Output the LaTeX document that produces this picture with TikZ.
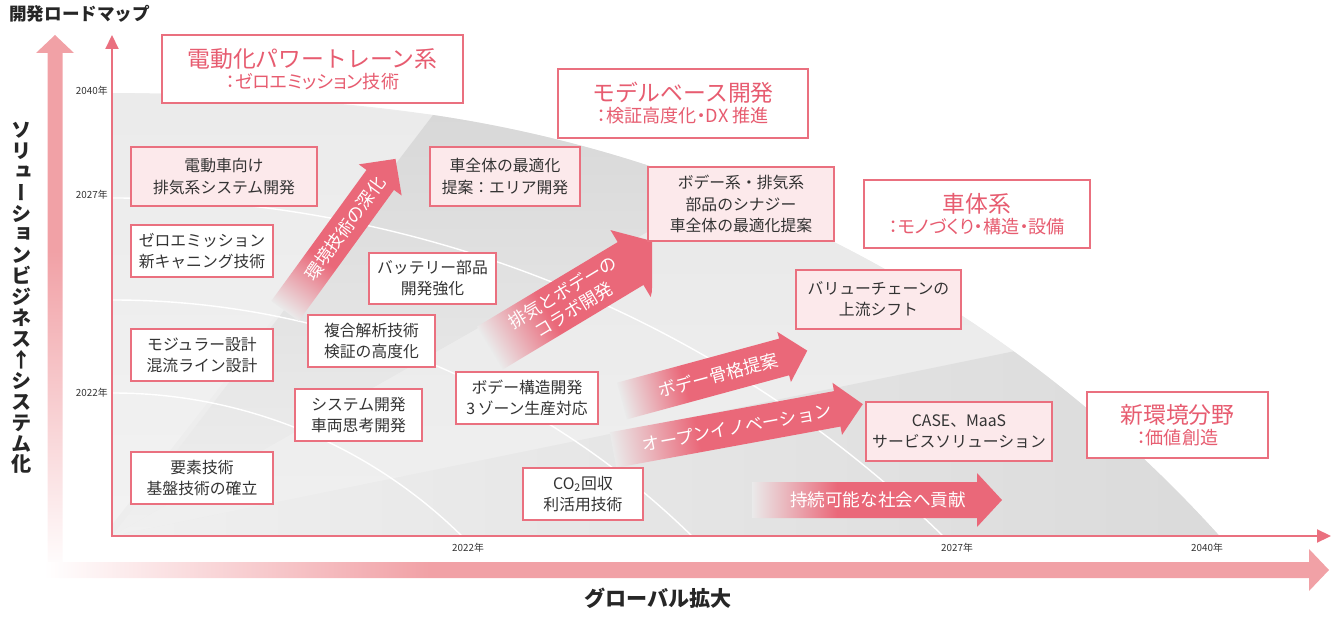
\documentclass[tikz,border=0pt]{standalone}
\usepackage{fontspec}
\setmainfont{Noto Sans CJK JP}
\newfontfamily\vertfont{Noto Sans CJK JP}[RawFeature=+vert]
\newfontfamily\palfont{Noto Sans CJK JP}[RawFeature=+palt]
\usetikzlibrary{arrows.meta}
\definecolor{keyred}{RGB}{231,92,112}
\definecolor{arrowred}{RGB}{234,104,121}
\definecolor{boxline}{RGB}{234,112,127}
\definecolor{boxpink}{RGB}{252,233,235}
\definecolor{bigpink}{RGB}{241,161,166}
\definecolor{textgray}{RGB}{51,51,51}
\definecolor{fadegray}{RGB}{234,234,234}
\newcommand\boxfont{\fontsize{9}{12}\selectfont}
\newcommand\titlefont{\fontsize{13}{15.5}\selectfont}
\newcommand\subtfont{\palfont\fontsize{10.3}{15.5}\selectfont}
\newcommand\arrowfont{\fontsize{10}{11.5}\selectfont}
\newcommand\yearfont{\fontsize{5.6}{6}\selectfont}
\pgfdeclarehorizontalshading{tailfade}{100bp}{color(0bp)=(fadegray); color(25bp)=(fadegray); color(42bp)=(arrowred); color(100bp)=(arrowred)}
\pgfdeclarehorizontalshading{xfade}{100bp}{color(0bp)=(white); color(25bp)=(white); color(40bp)=(bigpink); color(100bp)=(bigpink)}
\pgfdeclareverticalshading{yfade}{100bp}{color(0bp)=(white); color(25bp)=(white); color(55bp)=(bigpink); color(100bp)=(bigpink)}

\begin{document}
\begin{tikzpicture}[x=0.02cm, y=-0.02cm,
  box/.style={draw=boxline, line width=.8pt, fill=white, text=textgray, font=\boxfont, align=center, inner sep=0pt},
  pinkbox/.style={box, fill=boxpink},
  titlebox/.style={draw=boxline, line width=.8pt, fill=white, text=keyred, align=center, inner sep=0pt},
  sz/.style 2 args={minimum width=#1*0.02cm, minimum height=#2*0.02cm},
  arrowtext/.style={text=white, font=\arrowfont, align=center, inner sep=0pt},
  year/.style={font=\yearfont, text=textgray, inner sep=0pt},
  axis/.style={draw=boxline, line width=1.2pt, -{Triangle[length=.28cm, width=.26cm]}}]
  \useasboundingbox (0,0) rectangle (1335,618);
  % big background arrows
  \shade[shading=yfade] (47.5,575) -- (47.5,53) -- (36,53) -- (55,35) -- (74,53) -- (62.5,53) -- (62.5,575) -- cycle;
  \shade[shading=xfade] (44,562) -- (1309,562) -- (1309,549) -- (1329,570) -- (1309,591) -- (1309,578) -- (44,578) -- cycle;
  % gray fan
  \begin{scope}
    \clip (112,536) -- (112,93) .. controls (250,94) and (360,104) .. (433,115)
      arc[start angle=-81.59, end angle=-42.1, radius=1320] -- cycle;
    \fill[black!7] (100,50) rectangle (1300,540);
    \shade[top color=black!8, bottom color=black!5] (100,540) -- (100,80) -- (433,115) -- cycle;
    \shade[top color=black!16, bottom color=black!6] (112,536) -- (433,115) -- (600,80) -- (720,191) -- cycle;
    \shade[top color=black!9, bottom color=black!6] (112,536) -- (720,191) -- (1000,150) -- (1030,348) -- cycle;
    \shade[left color=black!6, right color=black!15] (112,536) -- (1030,348) -- (1300,300) -- (1300,540) -- cycle;
    \draw[white, line width=.8pt] (113,198) arc[start angle=-90, end angle=-30, radius=1188];
    \draw[white, line width=.8pt] (113,300) arc[start angle=-90, end angle=-30, radius=828];
    \draw[white, line width=.8pt] (113,393) arc[start angle=-90, end angle=-30, radius=497];
  \end{scope}
  % axes
  \coordinate (origin) at (112,536);
  \coordinate (ytop) at (112,35);
  \coordinate (xend) at (1331,536);
  \draw[axis] ([yshift=-.6pt]origin) -- (ytop);
  \draw[axis] ([xshift=-.6pt]origin) -- (xend);
  \node[year, anchor=east] (y40) at (108,91) {2040年};
  \node[year, anchor=east] (y27) at (108,195) {2027年};
  \node[year, anchor=east] (y22) at (108,393) {2022年};
  \node[year] (x22) at (468,548) {2022年};
  \node[year] (x27) at (957,548) {2027年};
  \node[year] (x40) at (1207,548) {2040年};
  % axis titles
  \node[font=\fontsize{10}{12}\selectfont\bfseries, text=black!85, anchor=west, inner sep=0pt] (maptitle) at (9,14) {開発ロードマップ};
  \node[font=\vertfont\fontsize{11.5}{11.9}\selectfont\bfseries, text=black!85, align=center, inner sep=0pt] (ylabel) at (22,298)
    {ソ\\リ\\ュ\\ー\\シ\\ョ\\ン\\ビ\\ジ\\ネ\\ス\\↑\\シ\\ス\\テ\\ム\\化};
  \node[font=\fontsize{12}{14}\selectfont\bfseries, text=black!85, inner sep=0pt] (xlabel) at (658,598) {グローバル拡大};
  % block arrows
  \begin{scope}[transform canvas={shift={(285,311)}, rotate=54}]
    \shade[shading=tailfade] (0,-17) -- (162,-17) -- (162,-26.5) -- (188,0) -- (162,26.5) -- (162,17) -- (0,17) -- cycle;
  \end{scope}
  \begin{scope}
    \clip (0,0) rectangle (652,618);
    \begin{scope}[transform canvas={shift={(490,348)}, rotate=31}]
      \shade[shading=tailfade] (0,-25) -- (164,-25) -- (164,-39) -- (202,0) -- (164,39) -- (164,25) -- (0,25) -- cycle;
    \end{scope}
  \end{scope}
  \begin{scope}[transform canvas={shift={(622,401)}, rotate=15.2}]
    \shade[shading=tailfade] (0,-19) -- (168,-19) -- (168,-26) -- (192,0) -- (168,26) -- (168,19) -- (0,19) -- cycle;
  \end{scope}
  \begin{scope}[transform canvas={shift={(613,450)}, rotate=10.4}]
    \shade[shading=tailfade] (0,-18) -- (228,-18) -- (228,-26.5) -- (254,0) -- (228,26.5) -- (228,18) -- (0,18) -- cycle;
  \end{scope}
  \shade[shading=tailfade] (752,482) -- (977,482) -- (977,473) -- (1002,500) -- (977,527) -- (977,518) -- (752,518) -- cycle;
  \node[arrowtext, rotate=54] (envdeep) at (345,228.5) {環境技術の深化};
  \node[arrowtext, rotate=31] (collab) at (568,301) {排気とボデーの\\コラボ開発};
  \node[arrowtext, rotate=15.2] (frame) at (718.5,375) {ボデー骨格提案};
  \node[arrowtext, rotate=10.4] (openinno) at (737,427.3) {オープンイノベーション};
  \node[arrowtext] (sustain) at (878,500) {持続可能な社会へ貢献};
  % theme boxes
  \node[pinkbox, sz={186}{59}] (evpt) at (224,176.5) {電動車向け\\排気系システム開発};
  \node[box, sz={142}{52}] (zerocan) at (202,251) {ゼロエミッション\\新キャニング技術};
  \node[box, sz={142}{52}] (modular) at (202,355) {モジュラー設計\\混流ライン設計};
  \node[box, sz={142}{52}] (basics) at (202,478) {要素技術\\基盤技術の確立};
  \node[box, sz={127}{52}] (analysis) at (371.5,341) {複合解析技術\\検証の高度化};
  \node[box, sz={127}{52}] (sysdev) at (358.5,415) {システム開発\\車両思考開発};
  \node[box, sz={127}{51}] (battery) at (432.5,278.5) {バッテリー部品\\開発強化};
  \node[pinkbox, sz={150}{59}] (areadev) at (505,176.5) {車全体の最適化\\提案：エリア開発};
  \node[pinkbox, sz={186}{74}] (synergy) at (741,204) {ボデー系・排気系\\部品のシナジー\\車全体の最適化提案};
  \node[pinkbox, sz={165}{59}] (valuechain) at (878.5,299.5) {バリューチェーンの\\上流シフト};
  \node[pinkbox, sz={186}{59}] (casemaas) at (959,431.5) {CASE、MaaS\\サービスソリューション};
  \node[box, sz={142}{52}] (bodystruct) at (527,398) {ボデー構造開発\\3\,ゾーン生産対応};
  \node[box, sz={120}{52}] (co2) at (583,494) {CO\textsubscript{2}回収\\利活用技術};
  % field titles
  \node[titlebox, sz={301}{68}] (powertrain) at (312.5,69) {\titlefont 電動化パワートレーン系\\\subtfont ：ゼロエミッション技術};
  \node[titlebox, sz={250}{69}] (modelbase) at (683,103.5) {\titlefont モデルベース開発\\\subtfont ：検証高度化・DX 推進};
  \node[titlebox, sz={226}{68}] (bodysys) at (977,214) {\titlefont 車体系\\\subtfont ：モノづくり・構造・設備};
  \node[titlebox, sz={181}{66}] (newenv) at (1177.5,425) {\titlefont 新環境分野\\\subtfont ：価値創造};
\end{tikzpicture}
\end{document}
